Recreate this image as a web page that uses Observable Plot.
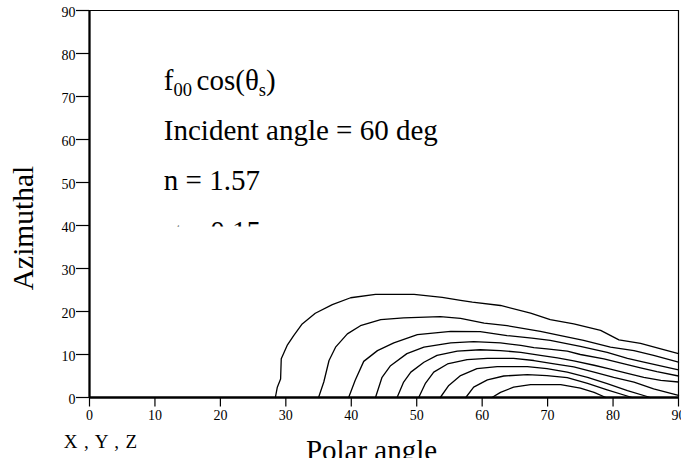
<!DOCTYPE html>
<html><head><meta charset="utf-8">
<script src="https://cdn.jsdelivr.net/npm/d3@7"></script>
<script src="https://cdn.jsdelivr.net/npm/@observablehq/plot@0.6"></script>
<style>
html,body{margin:0;padding:0;background:#fff;overflow:hidden}
</style></head><body><div id="chart"></div>
<script>
// Tick values (degrees)
const xTicks = [0,10,20,30,40,50,60,70,80,90];
const yTicks = [0,10,20,30,40,50,60,70,80,90];

// Contour lines: [polar angle, azimuthal] pairs
const contour1 = [[28.4,0],[28.7,2.4],[29.2,4.3],[29.3,9.0],[30.2,12.1],[31.2,14.4],[32.5,17.1],[34.5,19.6],[37.1,21.6],[39.9,23.2],[43.7,24.0],[49.6,24.0],[53.9,23.3],[56.7,22.6],[58.5,22.2],[62.8,21.4],[67.4,19.6],[70.4,18.1],[74.0,17.1],[78.1,15.6],[80.9,13.4],[84.2,12.6],[87.3,11.3],[90,10.2]];
const contour2 = [[35.0,0],[35.8,3.6],[36.6,8.6],[37.6,11.7],[39.4,14.8],[41.4,16.7],[44.5,18.1],[48.0,18.5],[53.6,18.8],[56.7,18.4],[60.3,17.3],[63.8,16.7],[68.9,15.4],[72.0,14.4],[75.5,13.3],[79.6,11.7],[83.2,10.9],[86.2,9.8],[90,8.2]];
const contour3 = [[39.6,0],[40.6,4.0],[41.9,8.4],[44.0,10.9],[46.5,12.7],[50.1,14.6],[55.2,15.4],[59.7,15.3],[63.8,14.4],[67.6,13.8],[70.4,13.3],[75.0,11.9],[79.1,10.5],[82.2,9.1],[84.7,8.2],[90,6.4]];
const contour4 = [[43.7,0],[44.7,4.7],[46.0,7.4],[48.5,10.2],[51.1,11.7],[55.2,12.7],[58.7,13.0],[62.8,12.7],[65.9,12.1],[67.9,11.6],[69.9,11.3],[73.0,10.8],[75.0,10.0],[78.6,9.0],[81.7,7.8],[84.2,6.9],[86.7,6.0],[90,5.0]];
const contour5 = [[47.0,0],[48.0,3.6],[49.1,5.9],[51.1,8.2],[53.1,9.8],[56.2,10.8],[59.7,11.1],[62.8,10.9],[65.9,10.5],[68.9,9.8],[71.5,9.2],[74.0,8.5],[77.1,7.5],[79.6,6.6],[82.2,5.6],[84.7,4.7],[87.3,4.0],[90,3.6]];
const contour6 = [[50.3,0],[51.3,3.2],[52.6,5.9],[54.7,7.8],[57.7,8.8],[60.8,9.1],[64.8,9.1],[67.9,8.6],[71.0,7.8],[74.0,7.1],[77.1,5.9],[80.1,4.7],[83.2,3.6],[86.2,2.0],[90,0.5]];
const contour7 = [[53.6,0],[54.9,2.8],[56.7,5.1],[59.2,6.7],[62.3,7.2],[66.9,7.2],[69.9,6.7],[73.0,5.9],[76.1,4.7],[79.1,3.2],[82.2,1.6],[85.7,0]];
const contour8 = [[57.5,0],[58.7,2.4],[60.8,4.1],[63.3,5.0],[66.9,5.3],[69.9,5.1],[73.0,4.6],[76.1,3.3],[79.1,1.8],[82.9,0]];
const contour9 = [[61.5,0],[62.8,1.2],[64.8,2.4],[67.4,3.0],[72.0,3.0],[75.0,2.2],[77.1,1.2],[78.9,0]];
const contours = [contour1, contour2, contour3, contour4, contour5, contour6, contour7, contour8, contour9];

// Text
const noteLines = ["f00 cos(θs)", "Incident angle = 60 deg", "n = 1.57", "σ = 0.15"];
const xLabel = "Polar angle";
const yLabel = "Azimuthal";
const cornerLabel = "X , Y , Z";

const rows = contours.flatMap((c, k) => c.map(([polar, azim]) => ({level: k + 1, polar, azim})));
const serif = '"Liberation Serif", "Times New Roman", Times, serif';
const noteDy = [70.0, 120.3, 170.5, 221.0];

const chart = Plot.plot({
  width: 681, height: 458,
  marginLeft: 89, marginRight: 3, marginTop: 10, marginBottom: 61,
  style: {fontFamily: serif, background: "white", color: "black", overflow: "visible"},
  x: {domain: [0, 90]},
  y: {domain: [0, 90]},
  marks: [
    Plot.line(rows, {x: "polar", y: "azim", z: "level", stroke: "black", strokeWidth: 1.3, curve: "linear"}),
    Plot.ruleY([90], {stroke: "black", strokeWidth: 1.2}),
    Plot.ruleX([90], {stroke: "black", strokeWidth: 1.2}),
    Plot.axisY(yTicks, {tickSize: 13, tickPadding: 1, fontSize: 14, label: null, strokeWidth: 1.2, tickFormat: d => String(d)}),
    Plot.axisX(xTicks, {tickSize: 9.5, tickPadding: 3, fontSize: 14, label: null, strokeWidth: 1.2, tickFormat: d => String(d)}),
    Plot.ruleX([0], {stroke: "black", strokeWidth: 2.3}),
    Plot.ruleY([0], {stroke: "black", strokeWidth: 2.3}),
    ...noteLines.map((t, i) => Plot.text([t], {frameAnchor: "top-left", dx: 74.3, dy: noteDy[i], text: d => d, fontSize: 29, textAnchor: "start", lineAnchor: "middle"})),
    Plot.text([yLabel], {frameAnchor: "left", dx: -66, dy: 24, rotate: -90, text: d => d, fontSize: 29.5, textAnchor: "middle", lineAnchor: "middle"}),
    Plot.text([xLabel], {frameAnchor: "bottom", dx: -12.5, dy: 53, text: d => d, fontSize: 29, textAnchor: "middle", lineAnchor: "middle"}),
    Plot.text([cornerLabel], {frameAnchor: "bottom-left", dx: -25.7, dy: 44.2, text: d => d, fontSize: 19, textAnchor: "start", lineAnchor: "middle"})
  ]
});

document.getElementById("chart").appendChild(chart);

const svg = d3.select(chart.tagName.toLowerCase() === "svg" ? chart : chart.querySelector("svg"));
// nudge y tick labels slightly down
svg.selectAll('g[aria-label="y-axis tick label"]').attr("transform", function() {
  const t = this.getAttribute("transform") || "";
  return t + " translate(0,2)";
});

// wider spacing for the corner label
svg.selectAll("text").filter(function() { return this.textContent === cornerLabel; }).style("letter-spacing", "0.9px");

// subscripts in the first annotation line
svg.selectAll("text").filter(function() { return this.textContent === noteLines[0]; }).each(function() {
  const t = d3.select(this);
  t.text(null);
  t.append("tspan").text("f");
  t.append("tspan").attr("font-size", 18.5).attr("dy", 6).text("00 ");
  t.append("tspan").attr("font-size", 29).attr("dy", -6).text("cos(θ");
  t.append("tspan").attr("font-size", 18.5).attr("dy", 6).text("s");
  t.append("tspan").attr("font-size", 29).attr("dy", -6).text(")");
});

// the last annotation line is cut off in the original: clip it
const defs = svg.insert("defs", ":first-child");
defs.append("clipPath").attr("id", "sigma-clip").append("rect").attr("x", 0).attr("y", 0).attr("width", 681).attr("height", 226.6);
svg.selectAll("text").filter(function() { return this.textContent === noteLines[3]; }).each(function() {
  const g = this.parentNode;
  const wrap = document.createElementNS("http://www.w3.org/2000/svg", "g");
  wrap.setAttribute("clip-path", "url(#sigma-clip)");
  g.parentNode.insertBefore(wrap, g);
  wrap.appendChild(g);
});
</script>
</body></html>
